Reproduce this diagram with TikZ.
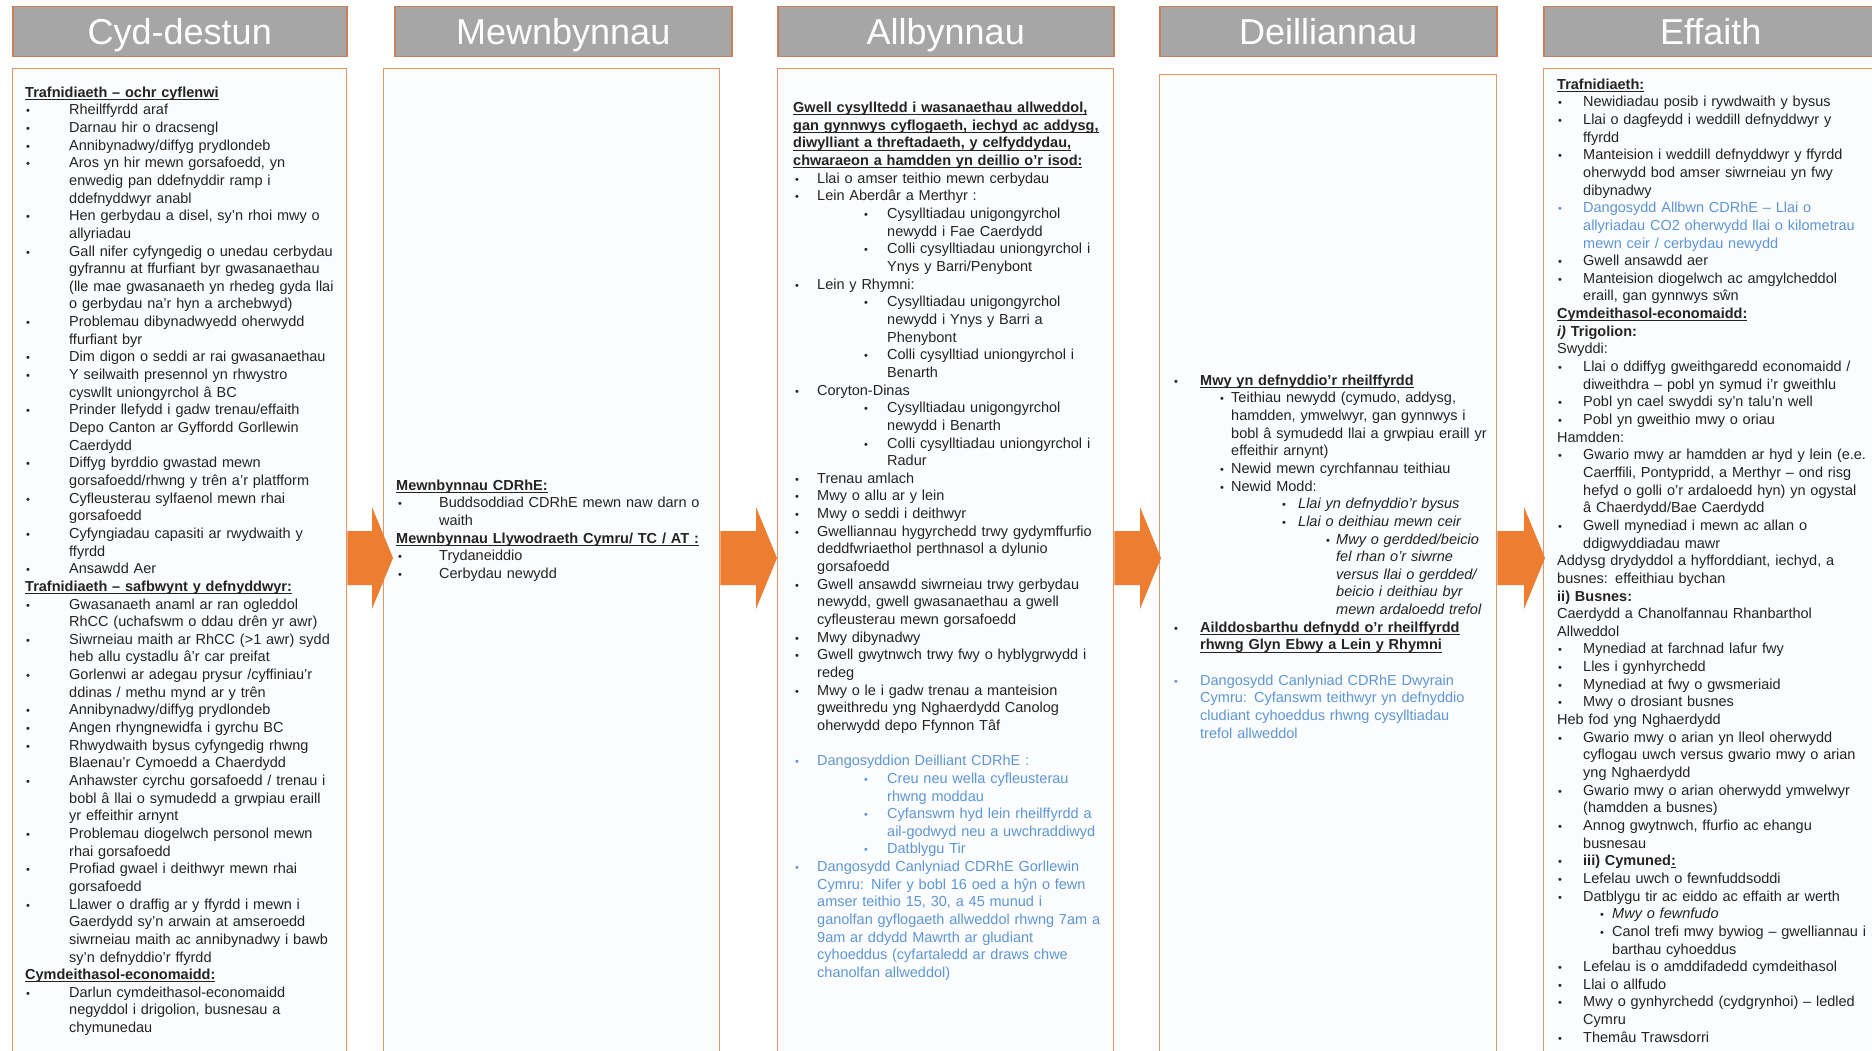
\documentclass[tikz,border=0pt]{standalone}
\usepackage{fontspec}
\setmainfont{Liberation Sans}
\usetikzlibrary{calc}

\definecolor{hdrgray}{RGB}{166,166,166}
\definecolor{hdrline}{RGB}{200,128,88}
\definecolor{boxline}{RGB}{228,148,102}
\definecolor{boxfill}{RGB}{250,252,254}
\definecolor{arrorange}{RGB}{237,125,49}
\definecolor{txt}{RGB}{35,35,35}
\definecolor{ind}{RGB}{95,150,210}

% indentation of the four list levels: bullet position and text position
\newdimen\lAb \newdimen\lAt \newdimen\lBb \newdimen\lBt
\newdimen\lCb \newdimen\lCt \newdimen\lDb \newdimen\lDt
\newcommand{\setind}[8]{\lAb=#1pt \lAt=#2pt \lBb=#3pt \lBt=#4pt \lCb=#5pt \lCt=#6pt \lDb=#7pt \lDt=#8pt\relax}
\newcommand{\bulmark}{{\fontsize{11}{11}\selectfont\textbullet}}
\newcommand{\lvA}[1]{\hspace*{\lAb}\makebox[\dimexpr\lAt-\lAb\relax][l]{\bulmark}#1}
\newcommand{\lvB}[1]{\hspace*{\lBb}\makebox[\dimexpr\lBt-\lBb\relax][l]{\bulmark}#1}
\newcommand{\lvC}[1]{\hspace*{\lCb}\makebox[\dimexpr\lCt-\lCb\relax][l]{\bulmark}#1}
\newcommand{\lvD}[1]{\hspace*{\lDb}\makebox[\dimexpr\lDt-\lDb\relax][l]{\bulmark}#1}
\newcommand{\cA}[1]{\hspace*{\lAt}#1}
\newcommand{\cB}[1]{\hspace*{\lBt}#1}
\newcommand{\cD}[1]{\hspace*{\lDt}#1}
% bold heading with an underline set just below the baseline
\newsavebox{\hdgbox}
\newcommand{\hdg}[1]{\leavevmode\sbox{\hdgbox}{\textbf{#1}}\rlap{\rule[-2.6pt]{\wd\hdgbox}{0.9pt}}\usebox{\hdgbox}}

\tikzset{
  hdr/.style={draw=hdrline, line width=1.5pt, fill=hdrgray, anchor=north west,
    inner sep=0pt, minimum height=50pt, text height=30pt, text depth=5.2pt,
    text=white, font=\fontsize{36}{40}\selectfont},
  colbox/.style={draw=boxline, line width=1.3pt, fill=boxfill, anchor=north west,
    inner sep=0pt, minimum height=1000pt},
  coltext/.style={anchor=north west, inner sep=0pt, text width=345pt, align=left,
    text=txt, font=\fontsize{14.5}{17.65}\selectfont},
  arrowfill/.style={fill=arrorange},
}

\begin{document}
\begin{tikzpicture}[x=1pt,y=1pt]
\useasboundingbox (0,0) rectangle (1872,-1051);
\clip (0,0) rectangle (1872,-1051);
\fill[white] (0,0) rectangle (1872,-1051);

% column headers
\node[hdr, minimum width=334pt] (h1) at (12,-6) {Cyd-destun};
\node[hdr, minimum width=337pt] (h2) at (394,-6) {Mewnbynnau};
\node[hdr, minimum width=336pt] (h3) at (777,-6) {Allbynnau};
\node[hdr, minimum width=337pt] (h4) at (1159,-6) {Deilliannau};
\node[hdr, minimum width=334pt] (h5) at (1543,-6) {Effaith};

% column frames
\node[colbox, minimum width=334pt] (b1) at (12,-68) {};
\node[colbox, minimum width=336pt] (b2) at (383,-68) {};
\node[colbox, minimum width=336pt] (b3) at (777,-68) {};
\node[colbox, minimum width=337pt] (b4) at (1159,-74) {};
\node[colbox, minimum width=334pt] (b5) at (1543,-68) {};

% block arrows between the columns
\foreach \s/\t/\o in {b1/b2/10,b2/b3/0,b3/b4/2,b4/b5/2}{
  \fill[arrowfill] let \p1=(\s.east), \p2=(\t.west) in
    (\x1,-531) -- (\x2+\o-21,-531) -- (\x2+\o-21,-507) -- (\x2+\o,-558)
    -- (\x2+\o-21,-609) -- (\x2+\o-21,-585) -- (\x1,-585) -- cycle;
}

% Cyd-destun
\node[coltext] (t1) at (25,-84.6) {\setind{1}{44}{0}{0}{0}{0}{0}{0}\noindent\strut
\hdg{Trafnidiaeth – ochr cyflenwi}\\
\lvA{Rheilffyrdd araf}\\
\lvA{Darnau hir o dracsengl}\\
\lvA{Annibynadwy/diffyg prydlondeb}\\
\lvA{Aros yn hir mewn gorsafoedd, yn}\\
\cA{enwedig pan ddefnyddir ramp i}\\
\cA{ddefnyddwyr anabl}\\
\lvA{Hen gerbydau a disel, sy’n rhoi mwy o}\\
\cA{allyriadau}\\
\lvA{Gall nifer cyfyngedig o unedau cerbydau}\\
\cA{gyfrannu at ffurfiant byr gwasanaethau}\\
\cA{(lle mae gwasanaeth yn rhedeg gyda llai}\\
\cA{o gerbydau na’r hyn a archebwyd)}\\
\lvA{Problemau dibynadwyedd oherwydd}\\
\cA{ffurfiant byr}\\
\lvA{Dim digon o seddi ar rai gwasanaethau}\\
\lvA{Y seilwaith presennol yn rhwystro}\\
\cA{cyswllt uniongyrchol â BC}\\
\lvA{Prinder llefydd i gadw trenau/effaith}\\
\cA{Depo Canton ar Gyffordd Gorllewin}\\
\cA{Caerdydd}\\
\lvA{Diffyg byrddio gwastad mewn}\\
\cA{gorsafoedd/rhwng y trên a’r platfform}\\
\lvA{Cyfleusterau sylfaenol mewn rhai}\\
\cA{gorsafoedd}\\
\lvA{Cyfyngiadau capasiti ar rwydwaith y}\\
\cA{ffyrdd}\\
\lvA{Ansawdd Aer}\\
\hdg{Trafnidiaeth – safbwynt y defnyddwyr:}\\
\lvA{Gwasanaeth anaml ar ran ogleddol}\\
\cA{RhCC (uchafswm o ddau drên yr awr)}\\
\lvA{Siwrneiau maith ar RhCC (>1 awr) sydd}\\
\cA{heb allu cystadlu â’r car preifat}\\
\lvA{Gorlenwi ar adegau prysur /cyffiniau’r}\\
\cA{ddinas / methu mynd ar y trên}\\
\lvA{Annibynadwy/diffyg prydlondeb}\\
\lvA{Angen rhyngnewidfa i gyrchu BC}\\
\lvA{Rhwydwaith bysus cyfyngedig rhwng}\\
\cA{Blaenau’r Cymoedd a Chaerdydd}\\
\lvA{Anhawster cyrchu gorsafoedd / trenau i}\\
\cA{bobl â llai o symudedd a grwpiau eraill}\\
\cA{yr effeithir arnynt}\\
\lvA{Problemau diogelwch personol mewn}\\
\cA{rhai gorsafoedd}\\
\lvA{Profiad gwael i deithwyr mewn rhai}\\
\cA{gorsafoedd}\\
\lvA{Llawer o draffig ar y ffyrdd i mewn i}\\
\cA{Gaerdydd sy’n arwain at amseroedd}\\
\cA{siwrneiau maith ac annibynadwy i bawb}\\
\cA{sy’n defnyddio’r ffyrdd}\\
\hdg{Cymdeithasol-economaidd:}\\
\lvA{Darlun cymdeithasol-economaidd}\\
\cA{negyddol i drigolion, busnesau a}\\
\cA{chymunedau}};

% Mewnbynnau
\node[coltext] (t2) at (396,-477.6) {\setind{2}{43}{0}{0}{0}{0}{0}{0}\noindent\strut
\hdg{Mewnbynnau CDRhE:}\\
\lvA{Buddsoddiad CDRhE mewn naw darn o}\\
\cA{waith}\\
\hdg{Mewnbynnau Llywodraeth Cymru/ TC  / AT :}\\
\lvA{Trydaneiddio}\\
\lvA{Cerbydau newydd}};

% Allbynnau
\node[coltext] (t3) at (793,-100.1) {\setind{2}{24}{71}{94}{0}{0}{0}{0}\noindent\strut
\hdg{Gwell cysylltedd i wasanaethau allweddol,}\\
\hdg{gan gynnwys cyflogaeth, iechyd ac addysg,}\\
\hdg{diwylliant a threftadaeth, y  celfyddydau,}\\
\hdg{chwaraeon a hamdden yn deillio o’r isod:}\\
\lvA{Llai o amser teithio mewn cerbydau}\\
\lvA{Lein Aberdâr a Merthyr :}\\
\lvB{Cysylltiadau unigongyrchol}\\
\cB{newydd i Fae Caerdydd}\\
\lvB{Colli cysylltiadau uniongyrchol i}\\
\cB{Ynys y Barri/Penybont}\\
\lvA{Lein y Rhymni:}\\
\lvB{Cysylltiadau unigongyrchol}\\
\cB{newydd i Ynys y Barri a}\\
\cB{Phenybont}\\
\lvB{Colli cysylltiad uniongyrchol i}\\
\cB{Benarth}\\
\lvA{Coryton-Dinas}\\
\lvB{Cysylltiadau unigongyrchol}\\
\cB{newydd i Benarth}\\
\lvB{Colli cysylltiadau uniongyrchol i}\\
\cB{Radur}\\
\lvA{Trenau amlach}\\
\lvA{Mwy o allu ar y lein}\\
\lvA{Mwy o seddi i deithwyr}\\
\lvA{Gwelliannau hygyrchedd trwy gydymffurfio}\\
\cA{deddfwriaethol perthnasol a dylunio}\\
\cA{gorsafoedd}\\
\lvA{Gwell ansawdd siwrneiau trwy gerbydau}\\
\cA{newydd, gwell gwasanaethau a gwell}\\
\cA{cyfleusterau mewn gorsafoedd}\\
\lvA{Mwy dibynadwy}\\
\lvA{Gwell gwytnwch trwy fwy o hyblygrwydd i}\\
\cA{redeg}\\
\lvA{Mwy o le i gadw trenau a manteision}\\
\cA{gweithredu yng Nghaerdydd Canolog}\\
\cA{oherwydd depo Ffynnon Tâf}\\[17.65pt]
{\color{ind}\lvA{Dangosyddion Deilliant CDRhE :}\\
\lvB{Creu neu wella cyfleusterau}\\
\cB{rhwng moddau}\\
\lvB{Cyfanswm hyd lein rheilffyrdd a}\\
\cB{ail-godwyd neu a uwchraddiwyd}\\
\lvB{Datblygu Tir}\\
\lvA{Dangosydd Canlyniad CDRhE Gorllewin}\\
\cA{Cymru: Nifer y bobl 16 oed a hŷn o fewn}\\
\cA{amser teithio 15, 30, a 45 munud i}\\
\cA{ganolfan gyflogaeth allweddol rhwng 7am a}\\
\cA{9am ar ddydd  Mawrth ar gludiant}\\
\cA{cyhoeddus (cyfartaledd ar draws chwe}\\
\cA{chanolfan allweddol)}}};

% Deilliannau
\node[coltext] (t4) at (1174,-372.6) {\setind{0}{26}{46}{57}{108}{124}{152}{162}\noindent\strut
\lvA{\hdg{Mwy yn defnyddio’r rheilffyrdd}}\\
\lvB{Teithiau newydd (cymudo, addysg,}\\
\cB{hamdden, ymwelwyr, gan gynnwys i}\\
\cB{bobl â symudedd llai a grwpiau eraill yr}\\
\cB{effeithir arnynt)}\\
\lvB{Newid mewn cyrchfannau teithiau}\\
\lvB{Newid Modd:}\\
\lvC{\textit{Llai yn defnyddio’r bysus}}\\
\lvC{\textit{Llai o deithiau mewn ceir}}\\
\lvD{\textit{Mwy o gerdded/beicio}}\\
\cD{\textit{fel rhan o’r siwrne}}\\
\cD{\textit{versus llai  o gerdded/}}\\
\cD{\textit{beicio i deithiau byr}}\\
\cD{\textit{mewn ardaloedd trefol}}\\
\lvA{\hdg{Ailddosbarthu defnydd  o’r rheilffyrdd}}\\
\cA{\hdg{rhwng Glyn Ebwy a Lein y Rhymni}}\\[17.65pt]
{\color{ind}\lvA{Dangosydd Canlyniad CDRhE Dwyrain}\\
\cA{Cymru: Cyfanswm teithwyr yn defnyddio}\\
\cA{cludiant cyhoeddus rhwng cysylltiadau}\\
\cA{trefol allweddol}}};

% Effaith
\node[coltext] (t5) at (1557,-76.6) {\setind{1}{26}{43}{55}{0}{0}{0}{0}\noindent\strut
\hdg{Trafnidiaeth:}\\
\lvA{Newidiadau posib i rywdwaith y bysus}\\
\lvA{Llai o dagfeydd i weddill defnyddwyr y}\\
\cA{ffyrdd}\\
\lvA{Manteision i weddill defnyddwyr y ffyrdd}\\
\cA{oherwydd bod amser siwrneiau yn fwy}\\
\cA{dibynadwy}\\
{\color{ind}\lvA{Dangosydd Allbwn CDRhE – Llai o}\\
\cA{allyriadau CO2 oherwydd llai o kilometrau}\\
\cA{mewn ceir / cerbydau newydd}}\\
\lvA{Gwell ansawdd aer}\\
\lvA{Manteision diogelwch ac amgylcheddol}\\
\cA{eraill, gan gynnwys sŵn}\\
\hdg{Cymdeithasol-economaidd:}\\
\textbf{\textit{i)} Trigolion:}\\
Swyddi:\\
\lvA{Llai o ddiffyg gweithgaredd economaidd /}\\
\cA{diweithdra – pobl yn symud i’r gweithlu}\\
\lvA{Pobl yn cael swyddi sy’n talu’n well}\\
\lvA{Pobl yn gweithio mwy o oriau}\\
Hamdden:\\
\lvA{Gwario mwy ar hamdden ar hyd y lein (e.e.}\\
\cA{Caerffili, Pontypridd, a Merthyr – ond risg}\\
\cA{hefyd o golli o’r ardaloedd hyn) yn ogystal}\\
\cA{â Chaerdydd/Bae Caerdydd}\\
\lvA{Gwell mynediad i mewn ac allan o}\\
\cA{ddigwyddiadau mawr}\\
Addysg drydyddol a hyfforddiant, iechyd, a\\
busnes: effeithiau bychan\\
\textbf{ii) Busnes:}\\
Caerdydd a Chanolfannau Rhanbarthol\\
Allweddol\\
\lvA{Mynediad at farchnad lafur fwy}\\
\lvA{Lles i gynhyrchedd}\\
\lvA{Mynediad at fwy o gwsmeriaid}\\
\lvA{Mwy o drosiant busnes}\\
Heb fod yng Nghaerdydd\\
\lvA{Gwario mwy o arian yn lleol oherwydd}\\
\cA{cyflogau uwch versus gwario mwy o arian}\\
\cA{yng Nghaerdydd}\\
\lvA{Gwario mwy o arian oherwydd ymwelwyr}\\
\cA{(hamdden a busnes)}\\
\lvA{Annog gwytnwch, ffurfio ac ehangu}\\
\cA{busnesau}\\
\lvA{\textbf{iii) Cymuned}\hdg{:}}\\
\lvA{Lefelau uwch o fewnfuddsoddi}\\
\lvA{Datblygu tir ac eiddo ac effaith ar werth}\\
\lvB{\textit{Mwy o fewnfudo}}\\
\lvB{Canol trefi mwy bywiog – gwelliannau i}\\
\cB{barthau cyhoeddus}\\
\lvA{Lefelau is o amddifadedd cymdeithasol}\\
\lvA{Llai o allfudo}\\
\lvA{Mwy o gynhyrchedd (cydgrynhoi) – ledled}\\
\cA{Cymru}\\
\lvA{Themâu Trawsdorri}};
\end{tikzpicture}
\end{document}
